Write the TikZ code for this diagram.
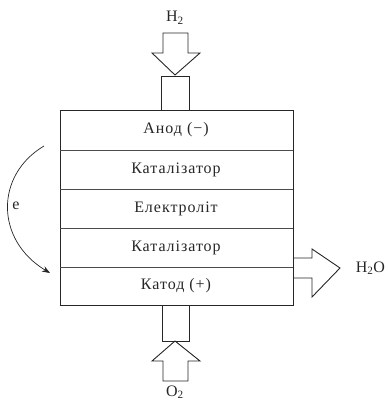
\documentclass[tikz,border=0pt]{standalone}
\usepackage{fontspec}
\setmainfont{Liberation Serif}[LetterSpace=6]
\usetikzlibrary{arrows.meta}

\begin{document}
\begin{tikzpicture}[x=1pt, y=-1pt, >={Stealth[length=8pt, width=6pt]}, line width=0.9pt, draw=black!85,
    every node/.style={font=\fontsize{16}{18}\selectfont, text=black!85}]
    \useasboundingbox (0,0) rectangle (387,403);

    % cell corners
    \coordinate (TL) at (60,110);
    \coordinate (BR) at (293,305);

    % layers
    \draw (TL) rectangle (BR);
    \foreach \y in {150,189,228,267}
      \draw[black!70] (60,\y) -- (293,\y);

    \node (anode) at (176,130) {Анод (−)};
    \node (cat1) at (176,169.5) {Каталізатор};
    \node (elyt) at (176,208.5) {Електроліт};
    \node (cat2) at (176,247.5) {Каталізатор};
    \node (cathode) at (176,286) {Катод (+)};

    % inlet tubes
    \draw (161,76) rectangle (189,110);
    \draw (162,305) rectangle (189,341);

    % H2 in
    \draw (163,33) -- (188,33) -- (188,53) -- (200,53) -- (175,75)
      -- (152,53) -- (163,53) -- cycle;
    \node (h2) at (175,18) {H\textsubscript{2}};

    % O2 in
    \draw (163,381) -- (188,381) -- (188,361) -- (200,361) -- (175,341)
      -- (152,361) -- (163,361) -- cycle;
    \node (o2) at (175,392) {O\textsubscript{2}};

    % H2O out
    \draw (293,258) -- (312,258) -- (312,249) -- (340,268) -- (312,297)
      -- (312,278) -- (293,278);
    \node[anchor=west] (h2o) at (352,268) {H\textsubscript{2}O};

    % electrons
    \coordinate (eStart) at (44,146);
    \coordinate (eEnd) at (50,273);
    \draw[->, line width=0.7pt] (eStart) .. controls (-5,175) and (-5,240) .. (eEnd);
    \node (e) at (16,206) {е};
\end{tikzpicture}
\end{document}
